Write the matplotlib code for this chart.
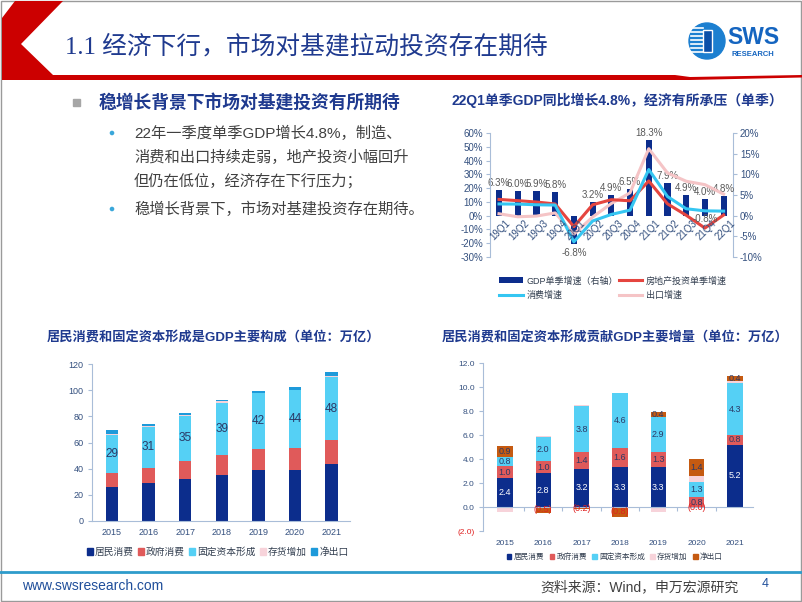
import numpy as np
import matplotlib
matplotlib.use('Agg')
import matplotlib.pyplot as plt
from matplotlib.patches import Polygon, Rectangle, Circle, Patch
from matplotlib.lines import Line2D

plt.rcParams['font.family'] = ['Liberation Sans', 'Noto Sans CJK SC']

# ---- data ----
quarters = ['19Q1', '19Q2', '19Q3', '19Q4', '20Q1', '20Q2', '20Q3', '20Q4',
            '21Q1', '21Q2', '21Q3', '21Q4', '22Q1']
gdp_q = [6.3, 6.0, 5.9, 5.8, -6.8, 3.2, 4.9, 6.5, 18.3, 7.9, 4.9, 4.0, 4.8]
realty_q = [11.8, 10.9, 9.9, 8.5, -8.0, 7.9, 11.6, 10.8, 25.2, 8.6, 0.3, -9.0, 0.5]
consume_q = [8.5, 8.4, 7.9, 7.7, -19.0, -3.9, 0.9, 4.0, 33.5, 13.9, 5.0, 3.5, 3.3]
export_q = [1.4, -0.8, -0.3, 2.0, -13.4, -1.0, 8.8, 16.6, 48.6, 31.0, 25.0, 22.5, 15.6]

years = ['2015', '2016', '2017', '2018', '2019', '2020', '2021']
hh_cons = [26.1, 28.8, 32.0, 35.4, 38.7, 38.7, 43.9]
gov_cons = [10.9, 12.0, 13.6, 15.3, 16.6, 17.2, 18.1]
gfcf = [29.0, 31.0, 35.0, 39.4, 42.3, 43.9, 47.9]
inventory = [0.8, 0.6, 0.8, 1.4, 0.6, 0.5, 1.3]
net_exp = [2.4, 1.6, 1.5, 0.9, 1.1, 2.5, 2.9]

d_hh = [2.4, 2.8, 3.2, 3.3, 3.3, -0.02, 5.2]
d_gov = [1.0, 1.0, 1.4, 1.6, 1.3, 0.8, 0.8]
d_gfcf = [0.8, 2.0, 3.8, 4.6, 2.9, 1.3, 4.3]
d_inv = [-0.4, 0.1, 0.1, 0.0, -0.4, 0.5, 0.2]
d_net = [0.9, -0.5, -0.2, -0.8, 0.4, 1.4, 0.4]

comp_names = ['居民消费', '政府消费', '固定资本形成', '存货增加', '净出口']

NAVY = '#0C2D8C'
RED = '#E05A5A'
CYAN = '#55D0F5'
PINKB = '#F7D3DA'
NETB = '#1E9ADA'
ORANGE = '#C55A11'
TBLUE = '#1F3A8F'
TICK = '#34507F'
SPINE = '#A9BDD8'

W, H = 802, 602
fig = plt.figure(figsize=(W / 100, H / 100), dpi=100)


def px_axes(x0, y0, x1, y1):
    return fig.add_axes([x0 / W, 1 - y1 / H, (x1 - x0) / W, (y1 - y0) / H])


# ---- slide background ----
bg = fig.add_axes([0, 0, 1, 1])
bg.set_xlim(0, W)
bg.set_ylim(H, 0)
bg.axis('off')
bg.add_patch(Rectangle((0.5, 0.5), W - 1.5, H - 1.5, fill=False, ec='#9A9A9A', lw=1))
bg.add_patch(Polygon([(15, 1), (63, 1), (21, 44), (53, 75), (675, 75), (690, 77),
                      (802, 75), (802, 77.5), (690, 80), (2, 80), (2, 18)],
                     closed=True, color='#CC0000', lw=0))
bg.text(65, 46, '1.1 经济下行，市场对基建拉动投资存在期待', fontsize=17.8, color=TBLUE,
        va='center', family=['Liberation Serif', 'Noto Sans CJK SC'])

# logo
bg.add_patch(Circle((707, 41), 18, color='#1C7FD0'))
for yy in range(28, 56, 4):
    bg.plot([691, 703], [yy, yy], color='white', lw=1.2)
bg.add_patch(Rectangle((703, 30), 9, 22, fc='#0B4FA8', ec='white', lw=1))
bg.text(727, 38, 'SWS', fontsize=16.5, fontweight='bold', color='#1565C0', va='center')
bg.text(731, 55, 'RESEARCH', fontsize=5.5, fontweight='bold', color='#1565C0', va='center')

# left text block
bg.add_patch(Rectangle((73, 99), 7, 7, color='#A6A6A6'))
bg.text(99, 103, '稳增长背景下市场对基建投资有所期待', fontsize=12.8, fontweight='bold',
        color=TBLUE, va='center')
lines_txt = [(133, '22年一季度单季GDP增长4.8%，制造、', True),
             (157, '消费和出口持续走弱，地产投资小幅回升', False),
             (181, '但仍在低位，经济存在下行压力；', False),
             (209, '稳增长背景下，市场对基建投资存在期待。', True)]
for yy, t, dot in lines_txt:
    if dot:
        bg.add_patch(Circle((112, yy), 1.6, color='#3AA7DA'))
    bg.text(134, yy, t, fontsize=11, color='#404040', va='center')

# chart titles
bg.text(452, 100, '22Q1单季GDP同比增长4.8%，经济有所承压（单季）', fontsize=10,
        fontweight='bold', color=TBLUE, va='center')
bg.text(47, 338, '居民消费和固定资本形成是GDP主要构成（单位：万亿）', fontsize=9.5,
        fontweight='bold', color=TBLUE, va='center')
bg.text(442, 338, '居民消费和固定资本形成贡献GDP主要增量（单位：万亿）', fontsize=9.5,
        fontweight='bold', color=TBLUE, va='center')

# footer
bg.plot([0, W], [572, 572], color='#2E9CCB', lw=2)
bg.text(22, 586, 'www.swsresearch.com', fontsize=10, color='#1F4E9A', va='center')
bg.text(540, 587, '资料来源：Wind，申万宏源研究', fontsize=10, color='#404040', va='center')
bg.text(762, 584, '4', fontsize=9, color='#1F4E9A', va='center')

# ---- top right: quarterly growth ----
ax = px_axes(490, 133, 733, 257)
ax2 = ax.twinx()
xq = np.arange(len(quarters))
bars = ax2.bar(xq, gdp_q, width=0.33, color=NAVY, zorder=2)
for i, v in enumerate(gdp_q):
    ax2.annotate(f'{v:.1f}%', (i, v), xytext=(0, 1.5 if v >= 0 else -3),
                 textcoords='offset points', ha='center',
                 va='bottom' if v >= 0 else 'top', fontsize=7, color='#595959')
l_export, = ax.plot(xq, export_q, color='#F5C4C6', lw=2.2)
l_realty, = ax.plot(xq, realty_q, color='#E5453F', lw=2.2)
l_cons, = ax.plot(xq, consume_q, color='#35C6F2', lw=2.2)
ax.annotate('-0.8%', (11, realty_q[11]), xytext=(0, 3), textcoords='offset points',
            ha='center', va='bottom', fontsize=7, color='#595959')
ax.set_zorder(ax2.get_zorder() + 1)
ax.patch.set_visible(False)
ax.set_ylim(-30, 60)
ax2.set_ylim(-10, 20)
ax.set_xlim(-0.48, 12.5)
ax.set_yticks(np.arange(-30, 61, 10))
ax.set_yticklabels([f'{v}%' for v in range(-30, 61, 10)])
ax2.set_yticks(np.arange(-10, 21, 5))
ax2.set_yticklabels([f'{v}%' for v in range(-10, 21, 5)])
ax.set_xticks([])
for a in (ax, ax2):
    for s in ('top', 'bottom'):
        a.spines[s].set_visible(False)
    a.tick_params(axis='y', labelsize=7, colors=SPINE, labelcolor=TICK, length=3, pad=2)
ax.spines['right'].set_visible(False)
ax2.spines['left'].set_visible(False)
ax.spines['left'].set_color(SPINE)
ax2.spines['right'].set_color(SPINE)
for i, q in enumerate(quarters):
    ax.text(i + 0.35, -1.5, q, rotation=45, ha='right', va='top', rotation_mode='anchor',
            fontsize=7, color=TICK)
fig.legend(handles=[bars, l_cons, l_realty, l_export],
           labels=['GDP单季增速（右轴）', '消费增速', '房地产投资单季增速', '出口增速'],
           ncol=2, loc='upper left', bbox_to_anchor=(491 / W, 1 - 268 / H), frameon=False,
           fontsize=6.5, labelcolor='#333F50', handlelength=2.6, columnspacing=0.1,
           handletextpad=0.4, labelspacing=0.6)


def stack(axis, x, series, colors, width):
    pos = np.zeros(len(x))
    neg = np.zeros(len(x))
    out = []
    for vals, c in zip(series, colors):
        v = np.array(vals, dtype=float)
        bottom = np.where(v >= 0, pos, neg)
        axis.bar(x, v, width=width, bottom=bottom, color=c, zorder=2)
        out.append((v, bottom))
        pos = pos + np.where(v >= 0, v, 0)
        neg = neg + np.where(v < 0, v, 0)
    return out


cols = [NAVY, RED, CYAN, PINKB, NETB]
handles = [Patch(color=c) for c in cols]

# ---- bottom left: GDP composition ----
bx = px_axes(92, 364, 350, 521)
xy = np.arange(len(years))
stack(bx, xy, [hh_cons, gov_cons, gfcf, inventory, net_exp], cols, 0.34)
for i in xy:
    bx.text(i, hh_cons[i] + gov_cons[i] + gfcf[i] / 2, f'{gfcf[i]:.0f}', ha='center',
            va='center', fontsize=8.5, color='#2B3A67')
bx.set_xlim(-0.54, 6.5)
bx.set_ylim(0, 120)
bx.set_yticks(np.arange(0, 121, 20))
bx.set_xticks(xy)
bx.set_xticklabels(years)
for s in ('top', 'right'):
    bx.spines[s].set_visible(False)
bx.spines['left'].set_color(SPINE)
bx.spines['bottom'].set_color(SPINE)
bx.tick_params(axis='y', labelsize=6.5, colors=SPINE, labelcolor=TICK, length=3, pad=3)
bx.tick_params(axis='x', labelsize=6.5, length=0, labelcolor=TICK, pad=5)
fig.legend(handles=handles, labels=comp_names, ncol=5, loc='center left',
           bbox_to_anchor=(78 / W, 1 - 552 / H), frameon=False, fontsize=7,
           labelcolor='#333F50', handlelength=0.6, handleheight=0.6, handletextpad=0.25,
           columnspacing=0.4)

# ---- bottom right: GDP increments ----
cx = px_axes(483, 363, 753, 531)
parts = stack(cx, xy, [d_hh, d_gov, d_gfcf, d_inv, d_net],
              [NAVY, RED, CYAN, PINKB, ORANGE], 0.4)
for k, (v, bottom) in enumerate(parts):
    if k == 3:
        continue
    for i in xy:
        val = v[i]
        if val < 0:
            txt, col = f'({abs(val):.1f})', '#E02020'
        else:
            txt, col = f'{val:.1f}', 'white' if k == 0 else '#2B3A67'
        cx.text(i, bottom[i] + val / 2, txt, ha='center', va='center', fontsize=6.5,
                color=col, zorder=3)
cx.set_xlim(-0.57, 6.47)
cx.set_ylim(-2, 12)
cx.set_yticks(np.arange(-2, 13, 2))
cx.set_yticklabels(['(2.0)'] + [f'{v:.1f}' for v in range(0, 13, 2)])
cx.set_xticks(xy[:-1] + 0.5)
cx.set_xticklabels([])
cx.spines['bottom'].set_position(('data', 0))
for s in ('top', 'right'):
    cx.spines[s].set_visible(False)
cx.spines['left'].set_color(SPINE)
cx.spines['bottom'].set_color(SPINE)
cx.tick_params(axis='y', labelsize=6, colors=SPINE, labelcolor=TICK, length=3, pad=3)
cx.tick_params(axis='x', colors=SPINE, length=3, direction='out')
for lab in cx.get_yticklabels()[1:]:
    lab.set_color(TICK)
cx.get_yticklabels()[0].set_color('#E02020')
for i in xy:
    cx.text(i, -0.055, years[i], transform=cx.get_xaxis_transform(), ha='center',
            va='top', fontsize=6, color=TICK)
fig.legend(handles=[Patch(color=c) for c in [NAVY, RED, CYAN, PINKB, ORANGE]],
           labels=comp_names, ncol=5, loc='center left',
           bbox_to_anchor=(500 / W, 1 - 557 / H), frameon=False, fontsize=5.5,
           labelcolor='#333F50', handlelength=0.6, handleheight=0.6, handletextpad=0.3,
           columnspacing=0.7)

fig.savefig('out.png', dpi=100)
